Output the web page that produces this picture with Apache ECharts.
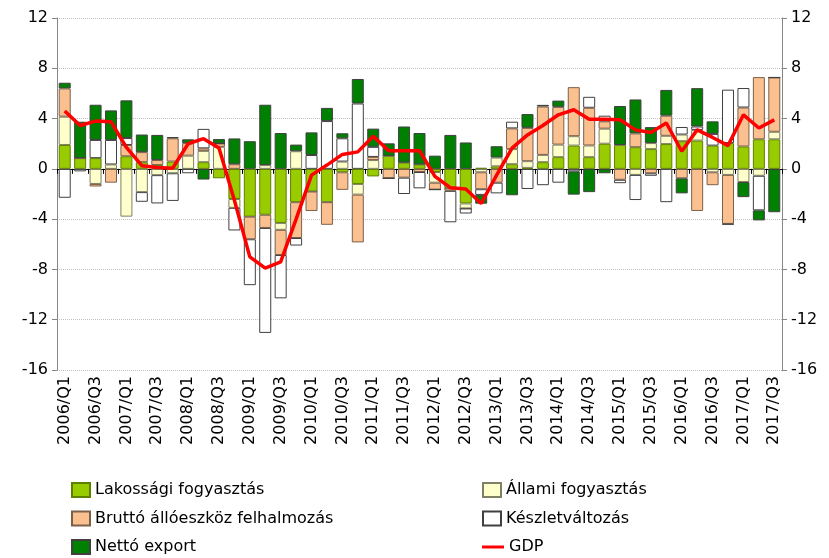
<!DOCTYPE html>
<html>
<head>
<meta charset="utf-8">
<script src="https://cdn.jsdelivr.net/npm/echarts@6/dist/echarts.min.js"></script>
<style>
html, body { margin: 0; background: #fff; }
#chart { width: 829px; height: 558px; }
</style>
</head>
<body>
<div id="chart"></div>
<script>
// negyedévek
var quarters = [
    '2006/Q1','2006/Q2','2006/Q3','2006/Q4','2007/Q1','2007/Q2','2007/Q3','2007/Q4',
    '2008/Q1','2008/Q2','2008/Q3','2008/Q4','2009/Q1','2009/Q2','2009/Q3','2009/Q4',
    '2010/Q1','2010/Q2','2010/Q3','2010/Q4','2011/Q1','2011/Q2','2011/Q3','2011/Q4',
    '2012/Q1','2012/Q2','2012/Q3','2012/Q4','2013/Q1','2013/Q2','2013/Q3','2013/Q4',
    '2014/Q1','2014/Q2','2014/Q3','2014/Q4','2015/Q1','2015/Q2','2015/Q3','2015/Q4',
    '2016/Q1','2016/Q2','2016/Q3','2016/Q4','2017/Q1','2017/Q2','2017/Q3'
];

var lakossagi = [1.9,0.85,0.85,0,1.0,0.53,0.3,0.58, 0,0.53,-0.75,-2.4,-3.8,-3.65,-4.3,-2.65,
    -1.8,-2.65,-0.27,-1.2,-0.6,1.03,0.5,0.35, -0.25,-1.55,-2.75,0.08,0.2,0.37,0.08,0.53,
    0.93,1.85,0.93,2.0,1.9,1.72,1.57,1.97, 2.2,2.25,1.85,2.05,1.78,2.35,2.35];
var allami = [2.25,0,-1.2,0.35,-3.8,-1.85,-0.5,-0.35, 1.05,0.9,1.75,-0.7,0,0.3,-0.55,1.4,
    0,0,0.58,-0.85,0.7,0,0,0, -0.85,0,-0.4,-0.27,0.7,1.2,0.53,0.58,
    1.0,0.75,0.93,1.2,0,-0.48,0.48,0.66, 0.53,0.85,-0.27,-0.48,-1.05,-0.55,0.6];
var brutto = [2.25,0,-0.2,-1.1,0.9,0.8,0.4,1.85, 1.0,0.2,0.27,0.37,-1.8,-1.05,-2.0,-2.85,
    -1.55,-1.8,-1.4,-3.8,0.25,-0.75,-0.7,-0.25, -0.55,-0.2,0,-1.35,-1.1,1.65,2.65,3.85,
    3.0,3.9,3.0,0.58,-0.87,1.1,-0.35,1.6, -0.75,-3.35,-1.03,-3.9,3.1,4.95,4.32];
var keszlet = [-2.3,-0.2,1.45,1.95,0.55,-0.77,-2.25,-2.2, -0.35,1.55,0,-1.8,-3.65,-8.35,-3.45,-0.6,
    1.1,3.8,1.85,5.2,0.8,0,-1.3,-1.3, 0,-2.5,-0.4,-0.45,-0.85,0.53,-1.6,-1.3,
    -1.1,-0.2,0.87,0.45,-0.27,-2.0,-0.2,-2.65, 0.6,0.27,0.93,4.25,1.55,-2.75,0];
var netto = [0.45,2.9,2.8,2.35,3.0,1.4,2.0,0.1, 0.3,-0.85,0.35,2.05,2.2,4.8,2.85,0.53,
    1.8,1.05,0.4,1.95,1.45,1.0,2.87,2.5, 1.05,2.7,2.1,-0.7,0.9,-2.1,1.1,0.13,
    0.5,-1.85,-1.85,-0.35,3.1,2.7,1.27,2.05, -1.2,3.05,1.0,-0.05,-1.2,-0.8,-3.45];
var gdp = [4.6,3.45,3.8,3.75,1.7,0.25,0.1,0.05, 2.0,2.4,1.65,-2.5,-7.0,-7.9,-7.4,-4.0,
    -0.5,0.3,1.15,1.35,2.6,1.45,1.45,1.45, -0.6,-1.5,-1.6,-2.75,-0.5,1.65,2.7,3.45,
    4.3,4.7,3.95,3.95,3.9,3.1,2.9,3.65, 1.4,3.1,2.5,1.85,4.3,3.25,3.9];

var yTicks = { min: -16, max: 12, interval: 4 };
var font = 'DejaVu Sans';
var legendText = { fontSize: 16, color: '#000', fontFamily: font, lineHeight: 20 };

function barSeries(name, data, color, border) {
    return {
        name: name,
        type: 'bar',
        stack: 'total',
        data: data,
        barWidth: 12,
        itemStyle: { color: color, borderColor: border, borderWidth: 1 }
    };
}

function valueAxis(pos) {
    return {
        type: 'value',
        position: pos,
        min: yTicks.min,
        max: yTicks.max,
        interval: yTicks.interval,
        axisLine: { show: true, lineStyle: { color: '#868686' } },
        axisTick: { show: true, length: 5, lineStyle: { color: '#868686' } },
        axisLabel: { color: '#000', fontSize: 16, fontFamily: font, margin: 9 },
        splitLine: { show: pos === 'left', lineStyle: { color: '#c0c0c0', type: 'dotted' } }
    };
}

var chart = echarts.init(document.getElementById('chart'));
chart.setOption({
    animation: false,
    backgroundColor: '#fff',
    textStyle: { fontFamily: font },
    grid: { left: 57, right: 47, top: 18, bottom: 188 },
    legend: [
        {
            orient: 'vertical', left: 71, top: 480, itemGap: 8.5,
            itemWidth: 18, itemHeight: 14, padding: 0, icon: 'rect',
            textStyle: legendText,
            data: ['Lakossági fogyasztás', 'Bruttó állóeszköz felhalmozás', 'Nettó export']
        },
        {
            orient: 'vertical', left: 482, top: 480, itemGap: 8.5,
            itemWidth: 18, itemHeight: 14, padding: 0, icon: 'rect',
            textStyle: legendText,
            data: ['Állami fogyasztás', 'Készletváltozás']
        },
        {
            left: 482, top: 537, padding: 0,
            itemWidth: 22, itemHeight: 3,
            textStyle: legendText,
            data: [{ name: 'GDP', icon: 'rect' }]
        }
    ],
    xAxis: [
        {
            type: 'category',
            data: quarters,
            position: 'bottom',
            axisLine: { show: false, onZero: false },
            axisTick: { show: false },
            axisLabel: { rotate: 90, interval: 1, fontSize: 16, color: '#000', fontFamily: font, margin: 6 }
        },
        {
            type: 'category',
            data: quarters,
            position: 'bottom',
            axisLine: { show: true, onZero: true, lineStyle: { color: '#000' } },
            axisTick: { show: true, interval: 0, length: 5, lineStyle: { color: '#000' } },
            axisLabel: { show: false }
        }
    ],
    yAxis: [valueAxis('left'), valueAxis('right')],
    series: [
        barSeries('Lakossági fogyasztás', lakossagi, '#99cc00', '#5e7f00'),
        barSeries('Állami fogyasztás', allami, '#ffffcc', '#7f7f66'),
        barSeries('Bruttó állóeszköz felhalmozás', brutto, '#fac090', '#7d6048'),
        barSeries('Készletváltozás', keszlet, '#ffffff', '#404040'),
        barSeries('Nettó export', netto, '#008000', '#404040'),
        {
            name: 'GDP',
            type: 'line',
            data: gdp,
            symbol: 'none',
            z: 5,
            lineStyle: { color: '#ff0000', width: 3.5 },
            itemStyle: { color: '#ff0000' }
        }
    ]
});
</script>
</body>
</html>
